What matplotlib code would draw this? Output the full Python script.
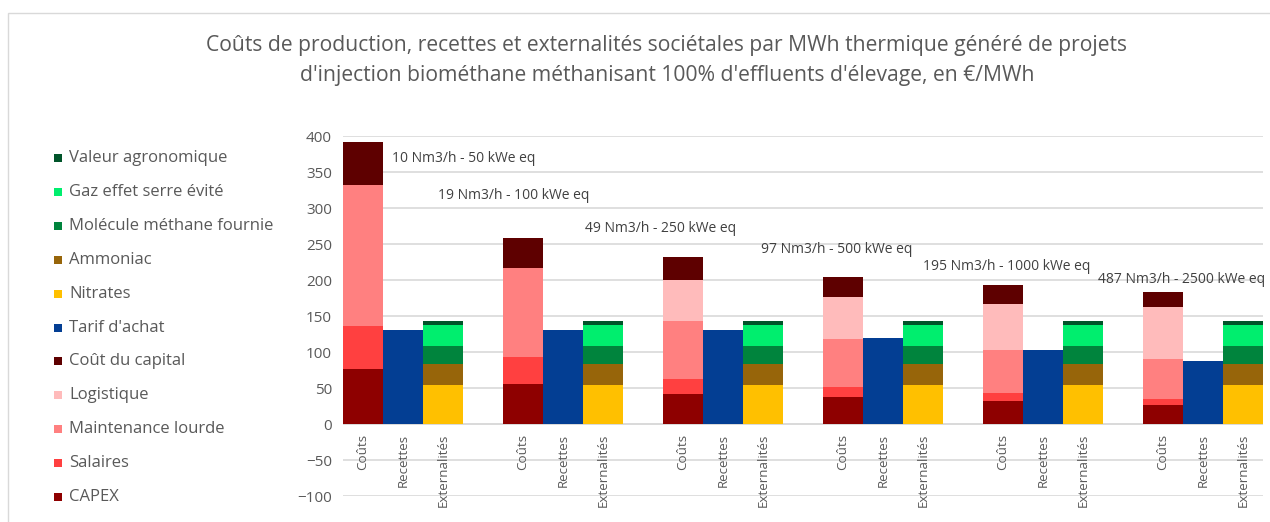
import numpy as np
import matplotlib.pyplot as plt
from matplotlib.patches import Rectangle

plt.rcParams['font.family'] = ['Open Sans', 'DejaVu Sans']

# Project sizes (one group of three bars each)
sizes = ["10 Nm3/h - 50 kWe eq", "19 Nm3/h - 100 kWe eq", "49 Nm3/h - 250 kWe eq",
         "97 Nm3/h - 500 kWe eq", "195 Nm3/h - 1000 kWe eq", "487 Nm3/h - 2500 kWe eq"]
bar_names = ["Coûts", "Recettes", "Externalités"]

# Costs (€/MWh)
capex = [76, 56, 41, 37, 32, 26]
salaires = [60, 37, 21, 14, 11, 9]
maintenance = [196, 124, 81, 67, 60, 55]
logistique = [0, 0, 57, 59, 64, 73]
capital = [59, 42, 32, 27, 26, 21]
# Revenues
tarif = [130, 130, 130, 120, 103, 87.5]
# Externalities
nitrates = [54, 54, 54, 54, 54, 54]
ammoniac = [29, 29, 29, 29, 29, 29]
molecule = [25, 25, 25, 25, 25, 25]
gaz = [30, 30, 30, 30, 30, 30]
valeur = [4.5, 4.5, 4.5, 4.5, 4.5, 4.5]

cost_series = [("CAPEX", capex, "#8E0000"),
               ("Salaires", salaires, "#FF4040"),
               ("Maintenance lourde", maintenance, "#FF8080"),
               ("Logistique", logistique, "#FFBBBB"),
               ("Coût du capital", capital, "#5E0000")]
rev_series = [("Tarif d'achat", tarif, "#033E93")]
ext_series = [("Nitrates", nitrates, "#FFC000"),
              ("Ammoniac", ammoniac, "#97650A"),
              ("Molécule méthane fournie", molecule, "#00843D"),
              ("Gaz effet serre évité", gaz, "#00EE6E"),
              ("Valeur agronomique", valeur, "#00542A")]

# label placement (x in slot units, y in €/MWh)
label_x = [0.72, 1.87, 5.55, 9.94, 13.99, 18.38]
label_y = [369, 318, 272, 242, 218.5, 201]

grey = "#595959"
grid = "#D9D9D9"

fig = plt.figure(figsize=(12.7, 5.22), dpi=100)
ax = fig.add_axes([343 / 1270, 1 - 496 / 522, 920 / 1270, 360 / 522])

n = len(sizes)
base = np.arange(n) * 4

legend_items = []
for offset, series in [(0, cost_series), (1, rev_series), (2, ext_series)]:
    bottom = np.zeros(n)
    for name, vals, color in series:
        vals = np.array(vals, dtype=float)
        ax.bar(base + offset, vals, width=1.0, bottom=bottom, color=color, linewidth=0, zorder=2)
        bottom += vals
        legend_items.append((name, color))

for i in range(n):
    ax.text(label_x[i], label_y[i], sizes[i], ha="left", va="center",
            fontsize=10, color="#404040", zorder=3)

ax.set_xlim(-0.5, 4 * n - 1.5)
ax.set_ylim(-100, 400)
ax.set_yticks(np.arange(-100, 401, 50))
ax.yaxis.grid(True, color=grid, linewidth=1.2, zorder=0)
ax.set_axisbelow(True)
ax.set_xticks([])
for s in ax.spines.values():
    s.set_visible(False)
ax.tick_params(axis="y", length=0, labelsize=11, labelcolor=grey, pad=8)
ax.axhline(0, color=grid, linewidth=1.2, zorder=1)

# category labels hang under the zero line
for i in range(n):
    for j, name in enumerate(bar_names):
        ax.annotate(name, (base[i] + j, 0), xytext=(0, -7), textcoords="offset points",
                    rotation=90, ha="center", va="top", fontsize=9.6, color=grey)

fig.text(667 / 1270, 1 - 46 / 522, "Coûts de production, recettes et externalités sociétales par MWh thermique généré de projets",
         ha="center", va="center", fontsize=15.2, color=grey)
fig.text(667 / 1270, 1 - 75 / 522, "d'injection biométhane méthanisant 100% d'effluents d'élevage, en €/MWh",
         ha="center", va="center", fontsize=15.2, color=grey)

# legend, top entry first
for k, (name, color) in enumerate(reversed(legend_items)):
    yc = 158 + k * 33.9
    fig.patches.append(Rectangle((54 / 1270, 1 - (yc + 4) / 522), 8 / 1270, 8 / 522,
                                 transform=fig.transFigure, color=color, linewidth=0))
    fig.text(69 / 1270, 1 - yc / 522, name, ha="left", va="center", fontsize=12, color=grey)

# chart border
fig.patches.append(Rectangle((7.5 / 1270, -0.1), 1.2, (1 - 12.5 / 522) + 0.1,
                             transform=fig.transFigure, fill=False, edgecolor=grid, linewidth=1))

fig.savefig("out.png", dpi=100)
